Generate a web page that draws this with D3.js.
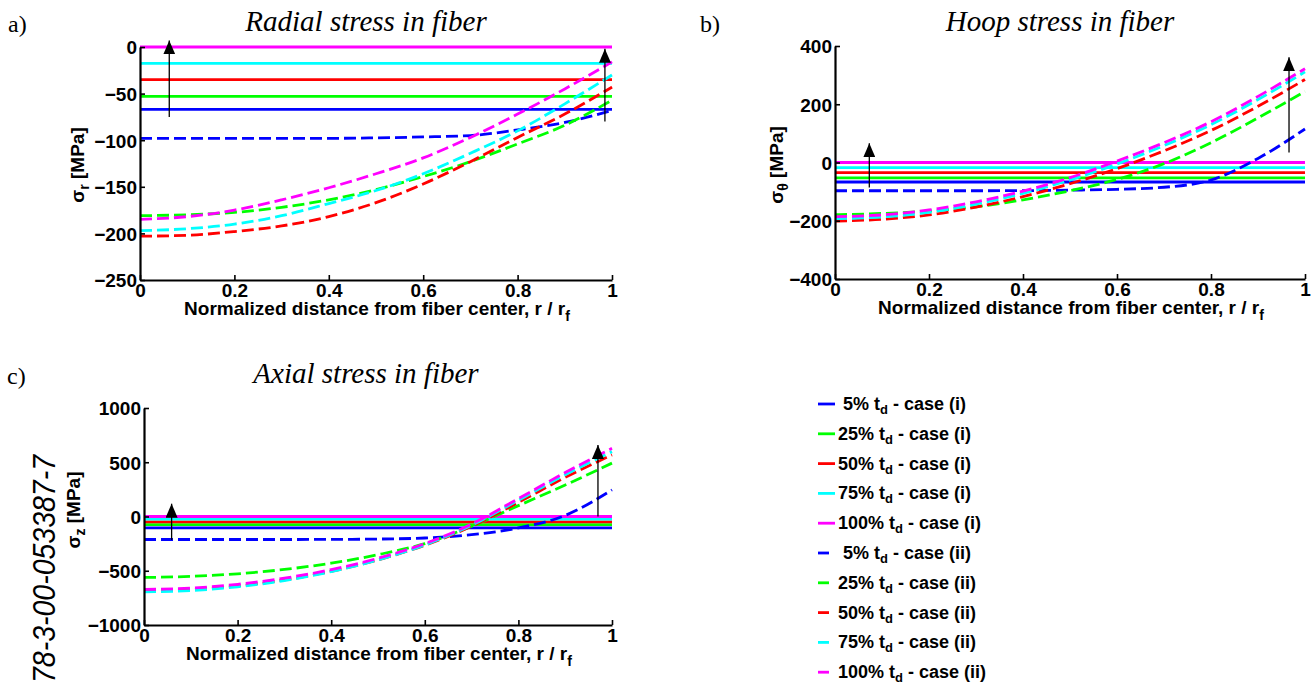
<!DOCTYPE html>
<html><head><meta charset="utf-8">
<script src="https://cdn.jsdelivr.net/npm/d3@7"></script>
<style>
html,body{margin:0;padding:0;background:#fff;}
svg{display:block;}
.tick text{font-family:"Liberation Sans",Arial,sans-serif;font-weight:bold;font-size:19px;fill:#000;}
</style></head><body>
<svg id="chart" width="1314" height="688"></svg>
<script>
// ---- data ----
const rPos = [0, 0.1, 0.2, 0.3, 0.4, 0.5, 0.6, 0.7, 0.8, 0.9, 1.0];
const caseNames = ["5%", "25%", "50%", "75%", "100%"];
const colors = ["#0000ff", "#00ff00", "#ff0000", "#00ffff", "#ff00ff"];

// radial stress, case (i) constant values
const radialCaseI = [-67, -53, -35, -17.5, 0];
// radial stress, case (ii)
const radial5 = [-98, -98, -98, -98, -98, -97.5, -96.5, -95, -89, -81, -68];
const radial25 = [-181, -180, -177.5, -172, -164, -153, -139, -123, -104, -84, -57];
const radial50 = [-203, -202, -198, -192, -182, -167, -147, -123, -97, -72, -43];
const radial75 = [-197, -195, -190, -181, -168, -154, -136, -114, -90, -61, -30];
const radial100 = [-185, -182, -175, -164, -151, -136, -119, -97, -72, -45, -16];

// hoop stress
const hoopCaseI = [-67, -53, -35, -17.5, 0];
const hoop5 = [-97, -97, -97, -97, -96.5, -95, -92, -85, -60, 14, 115];
const hoop25 = [-179, -175, -167, -152, -128, -97, -58, -4, 68, 153, 244];
const hoop50 = [-201, -195, -180, -153, -117, -73, -21, 40, 110, 193, 285];
const hoop75 = [-193, -187, -171, -143, -106, -60, -5, 58, 130, 216, 311];
const hoop100 = [-186, -180, -163, -135, -98, -52, 5, 68, 140, 227, 322];

// axial stress
const axialCaseI = [-105, -75, -50, -25, 0];
const axial5 = [-212, -212, -212, -212, -211, -208, -198, -168, -105, 10, 245];
const axial25 = [-562, -552, -528, -488, -430, -352, -250, -90, 100, 290, 492];
const axial50 = [-685, -672, -640, -585, -505, -400, -265, -90, 130, 360, 568];
const axial75 = [-695, -682, -648, -590, -508, -400, -262, -80, 150, 385, 598];
const axial100 = [-672, -660, -625, -568, -490, -385, -250, -70, 165, 405, 629];

const xTicks = [0, 0.2, 0.4, 0.6, 0.8, 1];
const xTickLabels = ["0", "0.2", "0.4", "0.6", "0.8", "1"];
const radialTicks = [0, -50, -100, -150, -200, -250];
const hoopTicks = [400, 200, 0, -200, -400];
const axialTicks = [1000, 500, 0, -500, -1000];

// arrows: x position, start value, tip value
const radialArrows = [{x: 0.062, y0: -75, y1: 7}, {x: 0.985, y0: -80, y1: -2}];
const hoopArrows = [{x: 0.073, y0: -86, y1: 66}, {x: 0.966, y0: 34, y1: 361}];
const axialArrows = [{x: 0.059, y0: -216, y1: 118}, {x: 0.97, y0: 0, y1: 660}];

// ---- drawing ----
const svg = d3.select("#chart");
const SANS = '"Liberation Sans",Arial,sans-serif';
const SERIF = '"Liberation Serif","Times New Roman",serif';

const defs = svg.append("defs");
defs.append("marker").attr("id", "ah").attr("viewBox", "0 0 14 12")
  .attr("refX", 14).attr("refY", 6).attr("markerWidth", 14).attr("markerHeight", 12)
  .attr("markerUnits", "userSpaceOnUse").attr("orient", "auto")
  .append("path").attr("d", "M0,0 L14,6 L0,12 Z").attr("fill", "#000");

function panel(cfg) {
  const x = d3.scaleLinear().domain([0, 1]).range(cfg.xr);
  const y = d3.scaleLinear().domain(cfg.yd).range(cfg.yr);
  const g = svg.append("g");

  // case (i) solid lines
  cfg.caseI.forEach((v, i) => {
    g.append("path")
      .datum(rPos.map(r => [r, v]))
      .attr("d", d3.line().x(d => x(d[0])).y(d => y(d[1])))
      .attr("fill", "none").attr("stroke", colors[i]).attr("stroke-width", 2.8);
  });
  // case (ii) dashed lines
  cfg.caseII.forEach((arr, i) => {
    g.append("path")
      .datum(arr.map((v, k) => [rPos[k], v]))
      .attr("d", d3.line().curve(d3.curveMonotoneX).x(d => x(d[0])).y(d => y(d[1])))
      .attr("fill", "none").attr("stroke", colors[i]).attr("stroke-width", 2.8)
      .attr("stroke-dasharray", "12,5");
  });
  // arrows
  cfg.arrows.forEach(a => {
    g.append("line").attr("x1", x(a.x)).attr("x2", x(a.x))
      .attr("y1", y(a.y0)).attr("y2", y(a.y1))
      .attr("stroke", "#000").attr("stroke-width", 1.3).attr("marker-end", "url(#ah)");
  });

  // axes
  const yAxis = d3.axisLeft(y).tickValues(cfg.yTicks).tickFormat(d3.format("d"))
    .tickSizeInner(-5).tickSizeOuter(0).tickPadding(3);
  const ga = svg.append("g").attr("transform", `translate(${cfg.xr[0]},0)`).call(yAxis);
  const xAxis = d3.axisBottom(x).tickValues(xTicks).tickFormat((d, i) => xTickLabels[i])
    .tickSizeInner(-5).tickSizeOuter(0).tickPadding(3);
  const gb = svg.append("g").attr("transform", `translate(0,${cfg.yr[0]})`).call(xAxis);
  [ga, gb].forEach(s => {
    s.select(".domain").attr("stroke", "#000").attr("stroke-width", 2.2);
    s.selectAll(".tick line").attr("stroke", "#000").attr("stroke-width", 1.6);
  });
  ga.selectAll(".tick text").attr("dy", "0.36em");

  // titles
  svg.append("text").attr("x", cfg.titleX).attr("y", cfg.titleY)
    .attr("text-anchor", "middle").attr("font-family", SERIF).attr("font-style", "italic")
    .attr("font-size", 29).text(cfg.title);
  svg.append("text").attr("x", cfg.tagX).attr("y", cfg.titleY + 1)
    .attr("font-family", SERIF).attr("font-size", 24).text(cfg.tag);

  // x label
  const xl = svg.append("text").attr("x", (cfg.xr[0] + cfg.xr[1]) / 2 + 1).attr("y", cfg.yr[0] + 35)
    .attr("text-anchor", "middle").attr("font-family", SANS).attr("font-weight", "bold")
    .attr("font-size", 19);
  xl.append("tspan").text("Normalized distance from fiber center, r / r");
  xl.append("tspan").attr("dy", 6).attr("font-size", 14).text("f");

  // y label
  const yl = svg.append("text")
    .attr("transform", `translate(${cfg.ylX},${cfg.ylY}) rotate(-90)`)
    .attr("text-anchor", "middle").attr("font-family", SANS).attr("font-weight", "bold")
    .attr("font-size", 19);
  yl.append("tspan").text("σ");
  yl.append("tspan").attr("dy", 5).attr("font-size", 14).text(cfg.sub);
  yl.append("tspan").attr("dy", -5).text(" [MPa]");
}

panel({xr: [140, 612], yd: [-250, 0], yr: [280, 47], yTicks: radialTicks,
  caseI: radialCaseI, caseII: [radial5, radial25, radial50, radial75, radial100],
  arrows: radialArrows, title: "Radial stress in fiber", titleX: 366, titleY: 31,
  tag: "a)", tagX: 8, ylX: 84, ylY: 165, sub: "r"});
panel({xr: [835, 1305], yd: [-400, 400], yr: [279, 46], yTicks: hoopTicks,
  caseI: hoopCaseI, caseII: [hoop5, hoop25, hoop50, hoop75, hoop100],
  arrows: hoopArrows, title: "Hoop stress in fiber", titleX: 1060, titleY: 31,
  tag: "b)", tagX: 700, ylX: 783, ylY: 165, sub: "θ"});
panel({xr: [144, 612], yd: [-1000, 1000], yr: [625, 408], yTicks: axialTicks,
  caseI: axialCaseI, caseII: [axial5, axial25, axial50, axial75, axial100],
  arrows: axialArrows, title: "Axial stress in fiber", titleX: 366, titleY: 383,
  tag: "c)", tagX: 7, ylX: 80, ylY: 510, sub: "z"});

// legend
const legendRows = [];
["(i)", "(ii)"].forEach((c, ci) => caseNames.forEach((n, i) => legendRows.push({n, c, ci, i})));
legendRows.forEach((row, k) => {
  const yy = 404 + k * 29.8;
  svg.append("line").attr("x1", 818).attr("x2", row.ci === 0 ? 835 : 829)
    .attr("y1", yy).attr("y2", yy).attr("stroke", colors[row.i]).attr("stroke-width", 2.8);
  const t = svg.append("text").attr("x", 838).attr("y", yy + 6)
    .attr("font-family", SANS).attr("font-weight", "bold").attr("font-size", 18)
    .style("white-space", "pre");
  t.append("tspan").text((row.n === "5%" ? " " : "") + row.n + " t");
  t.append("tspan").attr("dy", 4).attr("font-size", 13).text("d");
  t.append("tspan").attr("dy", -4).text(" - case " + row.c);
});

// side text
svg.append("text").attr("transform", "translate(55,455) rotate(-90)")
  .attr("text-anchor", "end").attr("font-family", SANS).attr("font-style", "italic")
  .attr("font-size", 31).attr("textLength", 228).attr("lengthAdjust", "spacingAndGlyphs")
  .text("78-3-00-053387-7");
</script>
</body></html>
